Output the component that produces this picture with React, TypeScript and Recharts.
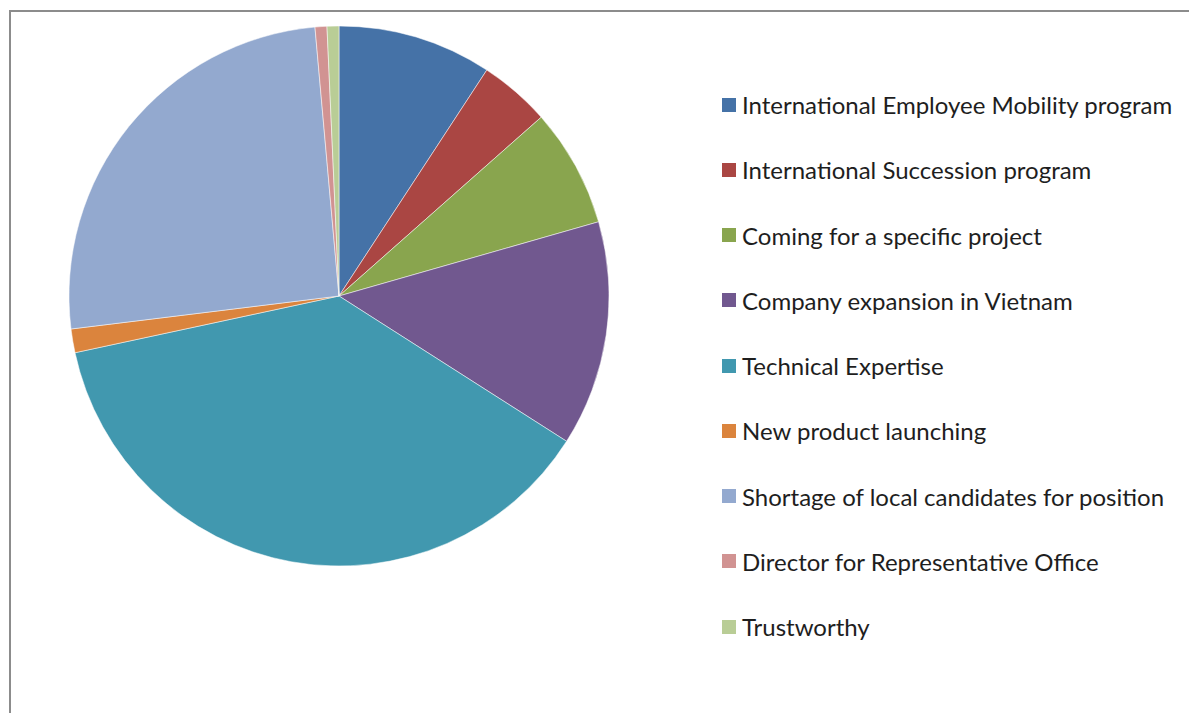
import React from "react";
import { PieChart, Pie, Cell, Legend } from "recharts";

const categories = [
  "International Employee Mobility program",
  "International Succession program",
  "Coming for a specific project",
  "Company expansion in Vietnam",
  "Technical Expertise",
  "New product launching",
  "Shortage of local candidates for position",
  "Director for Representative Office",
  "Trustworthy",
];
const counts = [13, 6, 10, 19, 53, 2, 36, 1, 1];
const colors = [
  "#4572A7",
  "#AA4643",
  "#89A54E",
  "#71588F",
  "#4198AF",
  "#DB843D",
  "#93A9CF",
  "#D19392",
  "#B9CD96",
];

const data = categories.map((name, i) => ({ name, value: counts[i] }));

const LegendContent = () => {
  return (
    <div>
      {categories.map((name, i) => (
        <div
          key={name}
          style={{
            display: "flex",
            alignItems: "center",
            height: 65.25,
            fontFamily: "Lato, 'Open Sans', sans-serif",
            fontSize: 24,
            color: "#1e1e1e",
            whiteSpace: "nowrap",
          }}
        >
          <span
            style={{
              display: "inline-block",
              width: 14,
              height: 14,
              background: colors[i],
              marginRight: 6,
            }}
          />
          <span>{name}</span>
        </div>
      ))}
    </div>
  );
};

export default function App() {
  return (
    <div style={{ position: "relative", width: 1189, height: 705, background: "#fff" }}>
      <div
        style={{
          position: "absolute",
          left: 1,
          top: 2,
          right: -20,
          bottom: -20,
          borderTop: "2px solid #8c8c8c",
          borderLeft: "2px solid #8c8c8c",
        }}
      />
      <PieChart width={1189} height={705} style={{ position: "absolute", left: 0, top: 0 }}>
        <Pie
          data={data}
          dataKey="value"
          nameKey="name"
          cx={326}
          cy={283}
          outerRadius={270}
          startAngle={90}
          endAngle={-270}
          stroke="#ffffff"
          strokeWidth={0.5}
          isAnimationActive={false}
          legendType="square"
        >
          {data.map((d, i) => (
            <Cell key={d.name} fill={colors[i]} />
          ))}
        </Pie>
        <Legend
          layout="vertical"
          content={<LegendContent />}
          wrapperStyle={{ position: "absolute", left: 714, top: 64, width: 475 }}
        />
      </PieChart>
    </div>
  );
}
